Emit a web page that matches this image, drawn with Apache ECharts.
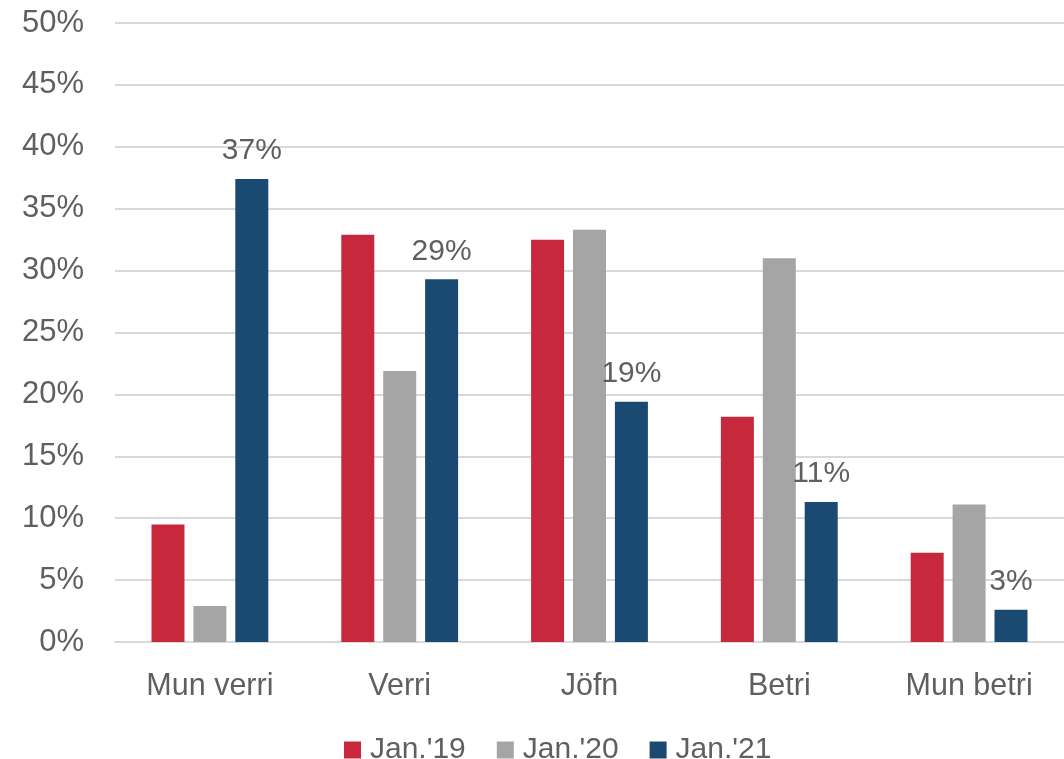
<!DOCTYPE html>
<html>
<head>
<meta charset="utf-8">
<script src="https://cdn.jsdelivr.net/npm/echarts@6/dist/echarts.min.js"></script>
<style>
  html, body { margin: 0; padding: 0; background: #fff; }
  #chart { width: 1064px; height: 759px; }
</style>
</head>
<body>
<div id="chart"></div>
<script>
// categories and series values (percent)
const categories = ['Mun verri', 'Verri', 'Jöfn', 'Betri', 'Mun betri'];
const seriesNames = ["Jan.'19", "Jan.'20", "Jan.'21"];
const jan19 = [9.5, 32.9, 32.5, 18.2, 7.2];
const jan20 = [2.9, 21.9, 33.3, 31.0, 11.1];
const jan21 = [37.4, 29.3, 19.4, 11.3, 2.6];
const colors = ['#C8283C', '#A5A5A5', '#1A4971'];

const textColor = '#5f5f5f';
const font = 'Liberation Sans, Arial, sans-serif';

let chart = echarts.init(document.getElementById('chart'));

function bar(name, data, color, showLabel) {
  return {
    name: name,
    type: 'bar',
    data: data,
    barWidth: 33,
    barGap: '27%',
    itemStyle: { color: color },
    label: {
      show: showLabel,
      position: 'top',
      distance: 13,
      color: textColor,
      fontFamily: font,
      fontSize: 30,
      formatter: p => Math.round(p.value) + '%'
    }
  };
}

chart.setOption({
  animation: false,
  color: colors,
  textStyle: { fontFamily: font },
  grid: { left: 115, right: 0, top: 23, bottom: 117 },
  legend: {
    top: 730,
    left: 339,
    itemWidth: 17,
    itemHeight: 17,
    itemGap: 31,
    icon: 'rect',
    textStyle: { color: textColor, fontSize: 30, fontFamily: font, padding: [0, 0, 0, 4] },
    data: seriesNames
  },
  xAxis: {
    type: 'category',
    data: categories,
    axisTick: { show: false },
    axisLine: { lineStyle: { color: '#d9d9d9', width: 2 } },
    axisLabel: { color: textColor, fontSize: 30.5, fontFamily: font, margin: 29 }
  },
  yAxis: {
    type: 'value',
    min: 0,
    max: 50,
    interval: 5,
    axisLabel: {
      color: textColor, fontSize: 31, fontFamily: font, margin: 31,
      formatter: '{value}%'
    },
    splitLine: { lineStyle: { color: '#d9d9d9', width: 2 } }
  },
  series: [
    bar(seriesNames[0], jan19, colors[0], false),
    bar(seriesNames[1], jan20, colors[1], false),
    bar(seriesNames[2], jan21, colors[2], true)
  ]
});
</script>
</body>
</html>
